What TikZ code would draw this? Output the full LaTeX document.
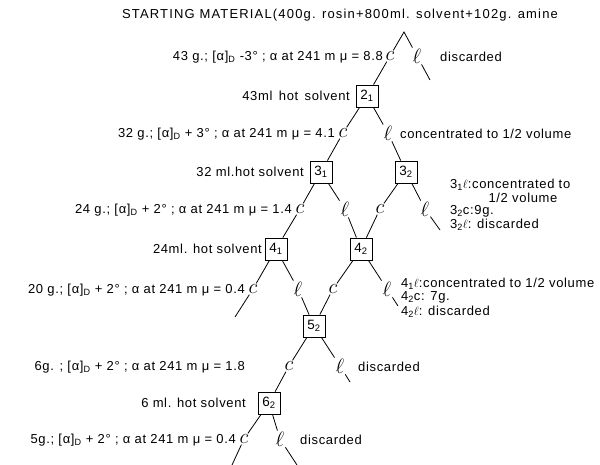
\documentclass[tikz,border=0pt]{standalone}
\usepackage{fontspec}
\setmainfont{Liberation Sans}[LetterSpace=5]
\usetikzlibrary{positioning}

\begin{document}
\begin{tikzpicture}[
  x=1pt, y=-1pt,
  box/.style={rectangle, draw, line width=0.8pt, minimum width=22pt, minimum height=22pt, inner sep=0pt, font=\fontsize{13.5}{15}\selectfont},
  lett/.style={inner sep=1pt, font=\huge},
  txt/.style={inner sep=0pt, font=\fontsize{13}{15}\selectfont},
  line/.style={line width=0.8pt}
]
  \useasboundingbox (0,0) rectangle (600,465);
  % starting material and first split
  \node[txt, font=\fontsize{13}{15}\selectfont\addfontfeature{LetterSpace=9}] (start) at (340,15) {STARTING MATERIAL(400g. rosin+800ml. solvent+102g. amine};
  \coordinate (apex) at (404,32);
  \node[lett] (c1) at (390,56) {$c$};
  \node[lett] (l1) at (417,56) {$\ell$};
  \coordinate (l1end) at (430,80);
  \node[txt, anchor=east] (c1txt) at (383,57) {43 g.; [α]\textsubscript{D} -3° ; α at 241 m μ = 8.8};
  \node[txt, anchor=west] (l1txt) at (440,57) {discarded};

  % second crop
  \node[box] (b21) at (367,96) {2\textsubscript{1}};
  \node[txt, anchor=east] (b21txt) at (350,96) {43ml\, hot\, solvent};
  \node[lett] (c2) at (343,133) {$c$};
  \node[lett] (l2) at (388,133) {$\ell$};
  \node[txt, anchor=east] (c2txt) at (335,134) {32 g.; [α]\textsubscript{D} + 3° ; α at 241 m μ = 4.1};
  \node[txt, anchor=west] (l2txt) at (400,134) {concentrated to 1/2 volume};

  % third crop
  \node[box] (b31) at (321,172) {3\textsubscript{1}};
  \node[box] (b32) at (406,172) {3\textsubscript{2}};
  \node[txt, anchor=east] (b31txt) at (304,172) {32 ml.hot solvent};
  \node[lett] (c31) at (300,209) {$c$};
  \node[lett] (l31) at (345,209) {$\ell$};
  \node[lett] (c32) at (380,209) {$c$};
  \node[lett] (l32) at (425,209) {$\ell$};
  \coordinate (l32end) at (440,230);
  \node[txt, anchor=east] (c31txt) at (292,210) {24 g.; [α]\textsubscript{D} + 2° ; α at 241 m μ = 1.4};
  \node[txt, anchor=west] (r3a) at (450,185) {3\textsubscript{1}$\ell$:concentrated to};
  \node[txt] (r3b) at (523,198) {1/2 volume};
  \node[txt, anchor=west] (r3c) at (450,211) {3\textsubscript{2}c:9g.};
  \node[txt, anchor=west] (r3d) at (450,225) {3\textsubscript{2}$\ell$: discarded};

  % fourth crop
  \node[box] (b41) at (276,249) {4\textsubscript{1}};
  \node[box] (b42) at (361,249) {4\textsubscript{2}};
  \node[txt, anchor=east] (b41txt) at (262,249) {24ml. hot solvent};
  \node[lett] (c41) at (253,289) {$c$};
  \node[lett] (l41) at (298,289) {$\ell$};
  \node[lett] (c42) at (333,289) {$c$};
  \node[lett] (l42) at (387,289) {$\ell$};
  \coordinate (c41end) at (235,317);
  \coordinate (l42end) at (398,306);
  \node[txt, anchor=east] (c41txt) at (245,290) {20 g.; [α]\textsubscript{D} + 2° ; α at 241 m μ = 0.4};
  \node[txt, anchor=west] (r4a) at (401,284) {4\textsubscript{1}$\ell$:concentrated to 1/2 volume};
  \node[txt, anchor=west] (r4b) at (401,297) {4\textsubscript{2}c: 7g.};
  \node[txt, anchor=west] (r4c) at (401,312) {4\textsubscript{2}$\ell$: discarded};

  % fifth crop
  \node[box] (b52) at (314,326) {5\textsubscript{2}};
  \node[lett] (c52) at (289,366) {$c$};
  \node[lett] (l52) at (340,366) {$\ell$};
  \coordinate (l52end) at (350,382);
  \node[txt, anchor=east] (c52txt) at (245,367) {6g. ; [α]\textsubscript{D} + 2° ; α at 241 m μ = 1.8};
  \node[txt, anchor=west] (l52txt) at (358,367) {discarded};

  % sixth crop
  \node[box] (b62) at (269,403) {6\textsubscript{2}};
  \node[txt, anchor=east] (b62txt) at (246,403) {6 ml. hot solvent};
  \node[lett] (c62) at (244,439) {$c$};
  \node[lett] (l62) at (280,439) {$\ell$};
  \coordinate (c62end) at (232,465);
  \coordinate (l62end) at (297,465);
  \node[txt, anchor=east] (c62txt) at (236,440) {5g.; [α]\textsubscript{D} + 2° ; α at 241 m μ = 0.4};
  \node[txt, anchor=west] (l62txt) at (300,440) {discarded};

  % branch lines
  \draw[line] (c1) -- (apex) -- (l1);
  \draw[line] (l1) -- (l1end);
  \draw[line] (c1) -- (b21);
  \draw[line] (b21) -- (c2) -- (b31);
  \draw[line] (b21) -- (l2) -- (b32);
  \draw[line] (b31) -- (c31) -- (b41);
  \draw[line] (b31) -- (l31) -- (b42);
  \draw[line] (b32) -- (c32) -- (b42);
  \draw[line] (b32) -- (l32) -- (l32end);
  \draw[line] (b41) -- (c41) -- (c41end);
  \draw[line] (b41) -- (l41) -- (b52);
  \draw[line] (b42) -- (c42) -- (b52);
  \draw[line] (b42) -- (l42) -- (l42end);
  \draw[line] (b52) -- (c52) -- (b62);
  \draw[line] (b52) -- (l52) -- (l52end);
  \draw[line] (b62) -- (c62) -- (c62end);
  \draw[line] (b62) -- (l62) -- (l62end);
\end{tikzpicture}
\end{document}
